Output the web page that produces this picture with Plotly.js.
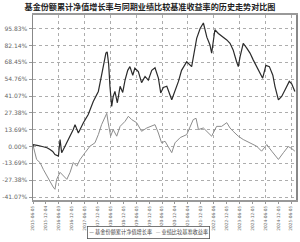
<!DOCTYPE html>
<html><head><meta charset="utf-8">
<script src="https://cdn.plot.ly/plotly-3.0.1.min.js"></script>
<style>html,body{margin:0;padding:0;background:#fff;}#chart{width:300px;height:242px;}</style>
</head><body><div id="chart"></div>
<script>
const tickDates = ["2015-06-05","2015-12-04","2016-06-03","2016-12-05","2017-06-05","2017-12-05","2018-06-05","2018-12-05","2019-06-05","2019-12-05","2020-06-05","2020-12-04","2021-06-04","2021-12-03","2022-06-06","2022-12-05","2023-06-05","2023-12-05","2024-06-05","2024-12-05","2025-06-05"];
const gridDates = ["2016-06-03","2017-06-05","2018-06-05","2019-06-05","2020-06-05","2021-06-04","2022-06-06","2023-06-05","2024-06-05","2025-06-05"];
const yTicks = [-41.07,-27.38,-13.69,0,13.69,27.38,41.07,54.76,68.45,82.14,95.83];
const yTickText = ["-41.07%","-27.38%","-13.69%","0.00%","13.69%","27.38%","41.07%","54.76%","68.45%","82.14%","95.83%"];

const fundDates = ["2015-06-05","2015-06-10","2015-08-20","2015-10-29","2015-12-20","2016-02-01","2016-03-10","2016-04-11","2016-05-30","2016-06-22","2016-07-15","2016-08-08","2016-09-26","2016-11-10","2016-12-26","2017-01-20","2017-03-08","2017-05-18","2017-07-26","2017-10-05","2017-11-22","2017-12-16","2018-01-31","2018-02-25","2018-04-02","2018-04-20","2018-05-11","2018-05-29","2018-06-23","2018-07-14","2018-08-08","2018-09-11","2018-10-20","2018-11-26","2018-12-29","2019-02-05","2019-03-08","2019-04-17","2019-05-17","2019-07-05","2019-08-20","2019-10-08","2019-11-23","2020-01-11","2020-02-26","2020-04-14","2020-05-17","2020-06-23","2020-08-11","2020-10-20","2020-12-05","2021-01-23","2021-03-08","2021-05-20","2021-07-29","2021-08-20","2021-10-08","2021-11-26","2022-01-11","2022-03-01","2022-04-14","2022-05-08","2022-06-23","2022-08-11","2022-10-20","2022-12-08","2023-01-23","2023-03-08","2023-04-26","2023-05-20","2023-06-14","2023-07-29","2023-09-17","2023-11-02","2023-12-17","2024-02-29","2024-04-29","2024-06-14","2024-08-02","2024-09-20","2024-10-20","2024-12-08","2025-01-23","2025-03-11","2025-05-11","2025-06-14","2025-07-29"];
const fundValues = [0,1.6,0.8,0,-1,-2.4,-4,-6.5,-7.8,5.7,-5,-2.4,3,8,13.8,17.8,11,19.4,26,36.7,42,44.8,58,65,76,77,67,49,32.6,40.7,44.8,35.6,49,44,54,62,65,58,63.7,61,52,57,54,62,64,55.6,43.6,48,49,38,44.8,53,62,69,65,73,88,96,100.5,89,82.6,76,95,92,89,86.7,84,78.6,69,65,73,84,80,76,70.5,62,55.6,66,65,58,49,38,40.7,46,53,51,44.8];

const benchDates = ["2015-06-05","2015-06-10","2015-07-26","2015-09-14","2015-10-29","2015-12-17","2016-02-01","2016-03-17","2016-04-11","2016-05-05","2016-06-22","2016-08-08","2016-09-26","2016-11-11","2016-12-26","2017-02-14","2017-04-02","2017-06-11","2017-08-20","2017-10-29","2017-12-16","2018-01-31","2018-03-20","2018-04-14","2018-05-05","2018-06-08","2018-07-14","2018-09-02","2018-10-20","2018-12-29","2019-02-14","2019-04-02","2019-06-11","2019-08-20","2019-11-02","2020-01-11","2020-02-26","2020-04-14","2020-05-29","2020-07-17","2020-08-11","2020-10-20","2020-12-05","2021-02-17","2021-05-20","2021-07-05","2021-08-20","2021-09-29","2021-11-02","2022-01-11","2022-03-20","2022-05-08","2022-07-17","2022-09-26","2022-12-08","2023-01-23","2023-03-08","2023-05-20","2023-07-29","2023-11-02","2024-02-05","2024-04-14","2024-06-26","2024-09-05","2024-11-14","2024-12-08","2025-02-17","2025-04-26","2025-06-14","2025-07-29"];
const benchValues = [0,0,-10.5,-13.2,-18.6,-24,-29,-33,-34.8,-26.7,-21,-24,-26.7,-21,-13,-16,-10.5,-5,0.3,3,9.7,17.8,24.6,27,19.2,8.4,13.8,8.4,16.4,20.5,24.6,21.9,19.4,12.4,15.1,16.4,17.8,11,3,4.3,1.6,-5,3,7.3,9.7,16.4,21.9,23,13.8,15.1,11,8.4,16.4,16.4,19.4,15.1,12.4,8.4,5.7,3,0.2,-3.8,1.6,-3.8,-9,-10.5,-5,0,-1.6,-3.8];

const seriesNames = ["基金份额累计净值增长率","业绩比较基准收益率"];
const xRange = ["2015-06-05","2025-08-14"];

const traces = [
  {x: benchDates, y: benchValues, type:'scatter', mode:'lines', name: seriesNames[1],
   line:{color:'#8c8c8c', width:1}, xaxis:'x', yaxis:'y'},
  {x: fundDates, y: fundValues, type:'scatter', mode:'lines', name: seriesNames[0],
   line:{color:'#2b2b2b', width:1.2}, xaxis:'x2', yaxis:'y'}
];

const tickFont = {family:'DejaVu Sans', size:6, color:'#666'};
const layout = {
  width:300, height:242,
  margin:{l:33, r:4, t:15, b:42},
  paper_bgcolor:'#fff', plot_bgcolor:'#fff',
  showlegend:false,
  title:{text:'基金份额累计净值增长率与同期业绩比较基准收益率的历史走势对比图',
         font:{family:'Noto Sans CJK SC', size:8.1, color:'#222', weight:600},
         x:0.5, xanchor:'center', y:0.972, yanchor:'middle'},
  xaxis:{type:'date', range:xRange, tickmode:'array', tickvals:tickDates, ticktext:tickDates, tickangle:-90,
         tickfont:{family:'DejaVu Sans', size:4.3, color:'#666'}, ticks:'outside', ticklen:2, tickcolor:'#999', showgrid:false,
         showline:true, linecolor:'#999', linewidth:2, mirror:true, zeroline:false},
  xaxis2:{type:'date', range:xRange, overlaying:'x', anchor:'y', side:'bottom',
          tickmode:'array', tickvals:gridDates, showticklabels:false, ticks:'',
          showgrid:true, gridcolor:'#999', griddash:'dot', gridwidth:0.8, showline:false, zeroline:false},
  yaxis:{range:[-43.5,107], tickmode:'array', tickvals:yTicks, ticktext:yTickText,
         tickfont:tickFont, ticks:'outside', ticklen:3, tickcolor:'#999',
         showgrid:true, gridcolor:'#999', griddash:'dot', gridwidth:0.8,
         showline:true, linecolor:'#888', linewidth:1.5, mirror:true, zeroline:false},
  annotations:[
    {xref:'paper', yref:'paper', x:0.205, y:-0.173, xanchor:'left', yanchor:'middle', showarrow:false,
     text:'<span style="color:#2b2b2b">—</span> '+seriesNames[0]+'   <span style="color:#8c8c8c">—</span> '+seriesNames[1],
     font:{family:'Noto Sans CJK SC', size:5.2, color:'#444'},
     bordercolor:'#555', borderwidth:0.8, borderpad:1.5, bgcolor:'#fff'}
  ]
};
Plotly.newPlot('chart', traces, layout, {staticPlot:true, displayModeBar:false});
</script></body></html>
